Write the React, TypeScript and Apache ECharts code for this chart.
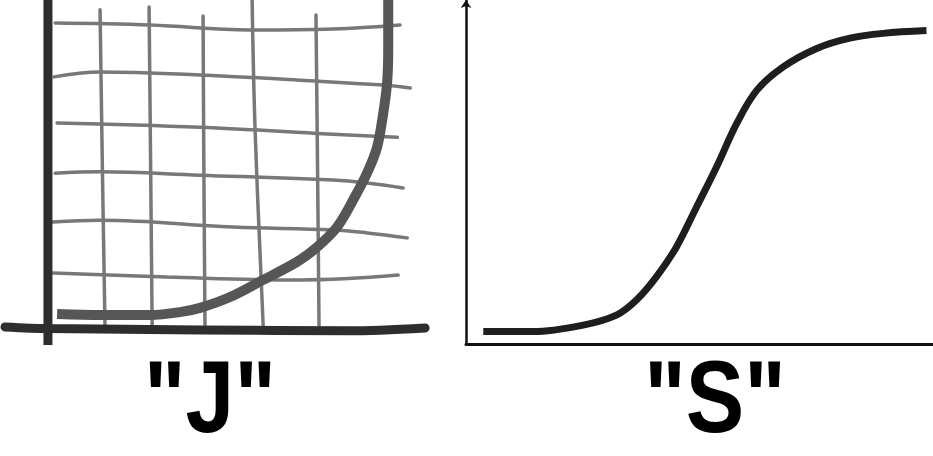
import React, { useEffect, useRef } from "react";
import * as echarts from "echarts";

// ---- Left panel ("J"): hand-drawn grid, axes and J curve (data units 0..100) ----
const jAxisX: number[][] = [[-11, 0.5], [0, 0], [40.3, -0.4], [79.8, -0.7], [99.5, 0.2]];
const jAxisY: number[][] = [[0.3, -5], [0.3, 50], [0.3, 100]];

const gridVertical: number[][][] = [
  [[14.0, 97.0], [14.6, 50], [15.3, 1]],
  [[26.9, 97.9], [27.3, 50], [27.7, 1]],
  [[41.1, 95.1], [41.3, 50], [41.6, 1]],
  [[54.0, 100], [54.8, 60], [56.9, 1]],
  [[70.8, 95.4], [71.2, 50], [71.6, 1]],
];

const gridHorizontal: number[][][] = [
  [[2.2, 93.0], [27.2, 92.4], [53.5, 90.9], [75.3, 91.2], [92.9, 92.4]],
  [[1.9, 76.6], [14.0, 78.1], [40.3, 77.2], [66.6, 75.6], [88.5, 74.1], [95.6, 73.2]],
  [[2.7, 62.6], [40.3, 61.3], [71.1, 59.4], [92.2, 58.2]],
  [[2.2, 47.3], [14.0, 47.7], [40.3, 46.7], [75.3, 45.2], [84.3, 44.3], [93.7, 42.8]],
  [[1.6, 32.4], [14.0, 33.0], [49.0, 30.9], [75.3, 30.0], [84.3, 29.1], [94.8, 27.6]],
  [[1.6, 16.9], [31.6, 15.7], [66.6, 14.8], [92.4, 16.3]],
];

const jCurve: number[][] = [
  [2.7, 4.4], [14.0, 4.1], [27.2, 4.1], [35.0, 5.0], [40.3, 6.3], [48.2, 9.6],
  [56.9, 14.8], [65.8, 20.3], [71.1, 24.8], [76.4, 31.0], [80.6, 39.2],
  [84.3, 47.5], [86.9, 55.3], [88.5, 65.6], [89.5, 74.7], [89.8, 84.8], [89.8, 100],
];

// ---- Right panel ("S"): S curve (data units 0..100) ----
const sCurve: number[][] = [
  [3.7, 3.6], [14.4, 3.6], [25.1, 5.5], [32.2, 8.4], [36.5, 12.8], [40.8, 19.6],
  [45.1, 28.3], [49.4, 39.9], [53.7, 51.6], [58.0, 64.2], [62.3, 73.8],
  [68.0, 80.6], [75.1, 85.9], [82.2, 88.9], [89.3, 90.3], [98.6, 91.1],
];

const labels: string[] = ['"J"', '"S"'];

export default function App() {
  const ref = useRef<HTMLDivElement>(null);

  useEffect(() => {
    if (!ref.current) return;
    const chart = echarts.init(ref.current, undefined, { renderer: "svg" });

    const gridLine = (d: number[][]) => ({
      type: "line",
      xAxisIndex: 0,
      yAxisIndex: 0,
      data: d,
      smooth: 0.4,
      showSymbol: false,
      silent: true,
      z: 2,
      lineStyle: { color: "#787878", width: 3.5, cap: "round" },
    });

    const series: any[] = [
      ...gridVertical.map(gridLine),
      ...gridHorizontal.map(gridLine),
      {
        type: "line",
        xAxisIndex: 0,
        yAxisIndex: 0,
        data: jCurve,
        smooth: 0.3,
        showSymbol: false,
        z: 4,
        lineStyle: { color: "#565656", width: 10, cap: "butt" },
      },
      {
        type: "line",
        xAxisIndex: 0,
        yAxisIndex: 0,
        data: jAxisX,
        smooth: 0.3,
        showSymbol: false,
        z: 5,
        lineStyle: { color: "#2e2e2e", width: 9, cap: "round" },
      },
      {
        type: "line",
        xAxisIndex: 0,
        yAxisIndex: 0,
        data: jAxisY,
        smooth: 0.3,
        showSymbol: false,
        z: 5,
        lineStyle: { color: "#2e2e2e", width: 9, cap: "butt" },
      },
      {
        type: "line",
        xAxisIndex: 1,
        yAxisIndex: 1,
        data: sCurve,
        smooth: 0.35,
        showSymbol: false,
        z: 4,
        lineStyle: { color: "#1e1e1e", width: 7, cap: "butt" },
      },
    ];

    const labelText = (text: string, cx: number) => ({
      type: "text",
      x: cx,
      y: 397,
      scaleX: 0.86,
      style: {
        text,
        x: 0,
        y: 0,
        fill: "#000",
        font: "bold 102px 'Liberation Sans', Arial, sans-serif",
        textAlign: "center",
        textVerticalAlign: "middle",
      },
    });

    chart.setOption({
      animation: false,
      backgroundColor: "#ffffff",
      grid: [
        { left: 5, top: 0, width: 422, height: 345 },
        { left: 466, top: 0, width: 467, height: 344 },
      ],
      xAxis: [
        { type: "value", gridIndex: 0, min: -11, max: 100, show: false },
        {
          type: "value",
          gridIndex: 1,
          min: 0,
          max: 100,
          axisLine: { show: true, lineStyle: { color: "#111", width: 3 } },
          axisTick: { show: false },
          axisLabel: { show: false },
          splitLine: { show: false },
        },
      ],
      yAxis: [
        { type: "value", gridIndex: 0, min: -5, max: 100, show: false },
        {
          type: "value",
          gridIndex: 1,
          min: 0,
          max: 100,
          axisLine: {
            show: true,
            symbol: ["none", "arrow"],
            symbolSize: [8, 8],
            lineStyle: { color: "#111", width: 2.5 },
          },
          axisTick: { show: false },
          axisLabel: { show: false },
          splitLine: { show: false },
        },
      ],
      series,
      graphic: [labelText(labels[0], 210), labelText(labels[1], 715)],
    });

    return () => chart.dispose();
  }, []);

  return (
    <div
      ref={ref}
      style={{ position: "absolute", left: 0, top: 0, width: 933, height: 456 }}
    />
  );
}
